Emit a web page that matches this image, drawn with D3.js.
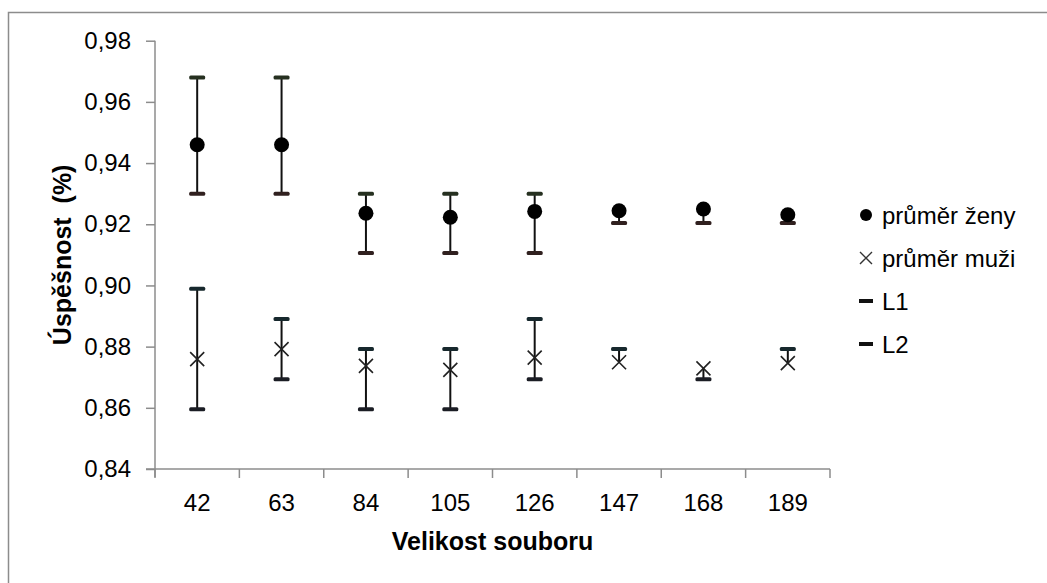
<!DOCTYPE html>
<html>
<head>
<meta charset="utf-8">
<script src="https://cdn.jsdelivr.net/npm/d3@7"></script>
<style>
  body { margin: 0; background: #fff; }
  svg { display: block; font-family: "Liberation Sans", Arial, sans-serif; }
</style>
</head>
<body>
<div id="chart"></div>
<script>
// values
const categories = ['42', '63', '84', '105', '126', '147', '168', '189'];
const yTicks = [0.84, 0.86, 0.88, 0.90, 0.92, 0.94, 0.96, 0.98];

const womenMean = [0.946, 0.946, 0.9236, 0.9223, 0.9242, 0.9244, 0.925, 0.9231];
const womenL1 = [0.968, 0.968, 0.930, 0.930, 0.930, null, null, null];
const womenL2 = [0.930, 0.930, 0.9106, 0.9106, 0.9106, 0.9204, 0.9204, 0.9204];

const menMean = [0.8759, 0.8792, 0.8737, 0.8724, 0.8764, 0.8749, 0.8729, 0.8746];
const menL1 = [0.8989, 0.889, 0.8792, 0.8792, 0.889, 0.8792, null, 0.8792];
const menL2 = [0.8595, 0.8693, 0.8595, 0.8595, 0.8693, null, 0.8693, null];

const legendLabels = ['průměr ženy', 'průměr muži', 'L1', 'L2'];

const width = 1047;
const height = 583;
const margin = { top: 40.7, right: 217, bottom: 114, left: 155 };

const svg = d3.select('#chart')
  .append('svg')
  .attr('width', width)
  .attr('height', height);

// outer frame (cut off by the picture on the right and bottom)
svg.append('rect')
  .attr('x', 8.5)
  .attr('y', 12.5)
  .attr('width', width + 20)
  .attr('height', height + 20)
  .attr('fill', 'none')
  .attr('stroke', '#8c8c8c')
  .attr('stroke-width', 1.5);

const x = d3.scaleBand()
  .domain(categories)
  .range([margin.left, width - margin.right]);

const y = d3.scaleLinear()
  .domain([0.84, 0.98])
  .range([height - margin.bottom, margin.top]);

const comma = (d) => d3.format('.2f')(d).replace('.', ',');

// y axis
const yAxis = svg.append('g')
  .attr('transform', `translate(${margin.left}, 0)`)
  .call(d3.axisLeft(y)
    .tickValues(yTicks)
    .tickFormat(comma)
    .tickSizeInner(9)
    .tickSizeOuter(0)
    .tickPadding(15));

yAxis.select('.domain').attr('d', `M0,${y(0.98)}V${y(0.84) + 8}`);

// x axis: labels centred in bands, ticks on band edges
const xAxis = svg.append('g')
  .attr('transform', `translate(0, ${y(0.84)})`)
  .call(d3.axisBottom(x)
    .tickSize(0)
    .tickPadding(25));

xAxis.select('.domain').attr('d', `M${margin.left - 9},0H${width - margin.right}`);

xAxis.selectAll('.edge')
  .data(categories.concat(['end']))
  .join('line')
  .attr('class', 'edge')
  .attr('x1', (d) => d === 'end' ? width - margin.right : x(d))
  .attr('x2', (d) => d === 'end' ? width - margin.right : x(d))
  .attr('y1', 0)
  .attr('y2', 9);

svg.selectAll('.domain, .tick line, .edge')
  .attr('stroke', '#8c8c8c')
  .attr('stroke-width', 1.5);

svg.selectAll('.tick text')
  .attr('fill', '#000')
  .style('font-size', '24px')
  .style('font-family', '"Liberation Sans", Arial, sans-serif');

// axis titles
svg.append('text')
  .attr('x', (margin.left + width - margin.right) / 2)
  .attr('y', 550)
  .attr('text-anchor', 'middle')
  .style('font-size', '25px')
  .style('font-weight', 'bold')
  .text('Velikost souboru');

svg.append('text')
  .attr('transform', `translate(71, ${(y(0.98) + y(0.84)) / 2}) rotate(-90)`)
  .attr('text-anchor', 'middle')
  .style('font-size', '25px')
  .style('font-weight', 'bold')
  .style('white-space', 'pre')
  .text('Úspěšnost  (%)');

const cx = (i) => x(categories[i]) + x.bandwidth() / 2;

function drawSeries(mean, l1, l2, upColor, lowColor) {
  const g = svg.append('g');

  // high-low line over whatever values exist
  g.selectAll('.hl')
    .data(mean)
    .join('line')
    .attr('x1', (d, i) => cx(i))
    .attr('x2', (d, i) => cx(i))
    .attr('y1', (d, i) => y(d3.max([d, l1[i], l2[i]])))
    .attr('y2', (d, i) => y(d3.min([d, l1[i], l2[i]])))
    .attr('stroke', '#111')
    .attr('stroke-width', 2);

  [[l1, upColor], [l2, lowColor]].forEach(([vals, color]) => {
    g.selectAll(null)
      .data(vals.map((v, i) => ({ v, i })).filter((d) => d.v !== null))
      .join('rect')
      .attr('x', (d) => cx(d.i) - 8)
      .attr('y', (d) => y(d.v) - 2)
      .attr('width', 16)
      .attr('height', 4)
      .attr('rx', 1.5)
      .attr('fill', color);
  });
  return g;
}

const women = drawSeries(womenMean, womenL1, womenL2, '#263020', '#30201f');
women.selectAll('.dot')
  .data(womenMean)
  .join('circle')
  .attr('cx', (d, i) => cx(i))
  .attr('cy', (d) => y(d))
  .attr('r', 7.5)
  .attr('fill', '#000');

const men = drawSeries(menMean, menL1, menL2, '#17282d', '#1b1d24');
const cross = 7;
men.selectAll('.cross')
  .data(menMean)
  .join('path')
  .attr('d', (d, i) => {
    const px = cx(i);
    const py = y(d);
    return `M${px - cross},${py - cross}L${px + cross},${py + cross}M${px - cross},${py + cross}L${px + cross},${py - cross}`;
  })
  .attr('stroke', '#222')
  .attr('stroke-width', 1.6)
  .attr('fill', 'none');

// legend
const legend = svg.append('g').attr('transform', 'translate(866, 0)');
const rowY = [215, 258, 301, 344];

legend.append('circle').attr('cx', 0).attr('cy', rowY[0]).attr('r', 6).attr('fill', '#000');
legend.append('path')
  .attr('d', `M-6,${rowY[1] - 6}L6,${rowY[1] + 6}M-6,${rowY[1] + 6}L6,${rowY[1] - 6}`)
  .attr('stroke', '#333')
  .attr('stroke-width', 1.4);
legend.append('rect').attr('x', -7).attr('y', rowY[2] - 2).attr('width', 14).attr('height', 4).attr('fill', '#111');
legend.append('rect').attr('x', -7).attr('y', rowY[3] - 2).attr('width', 14).attr('height', 4).attr('fill', '#111');

legend.selectAll('.lab')
  .data(legendLabels)
  .join('text')
  .attr('x', 16)
  .attr('y', (d, i) => rowY[i] + 9)
  .style('font-size', '24px')
  .text((d) => d);
</script>
</body>
</html>
